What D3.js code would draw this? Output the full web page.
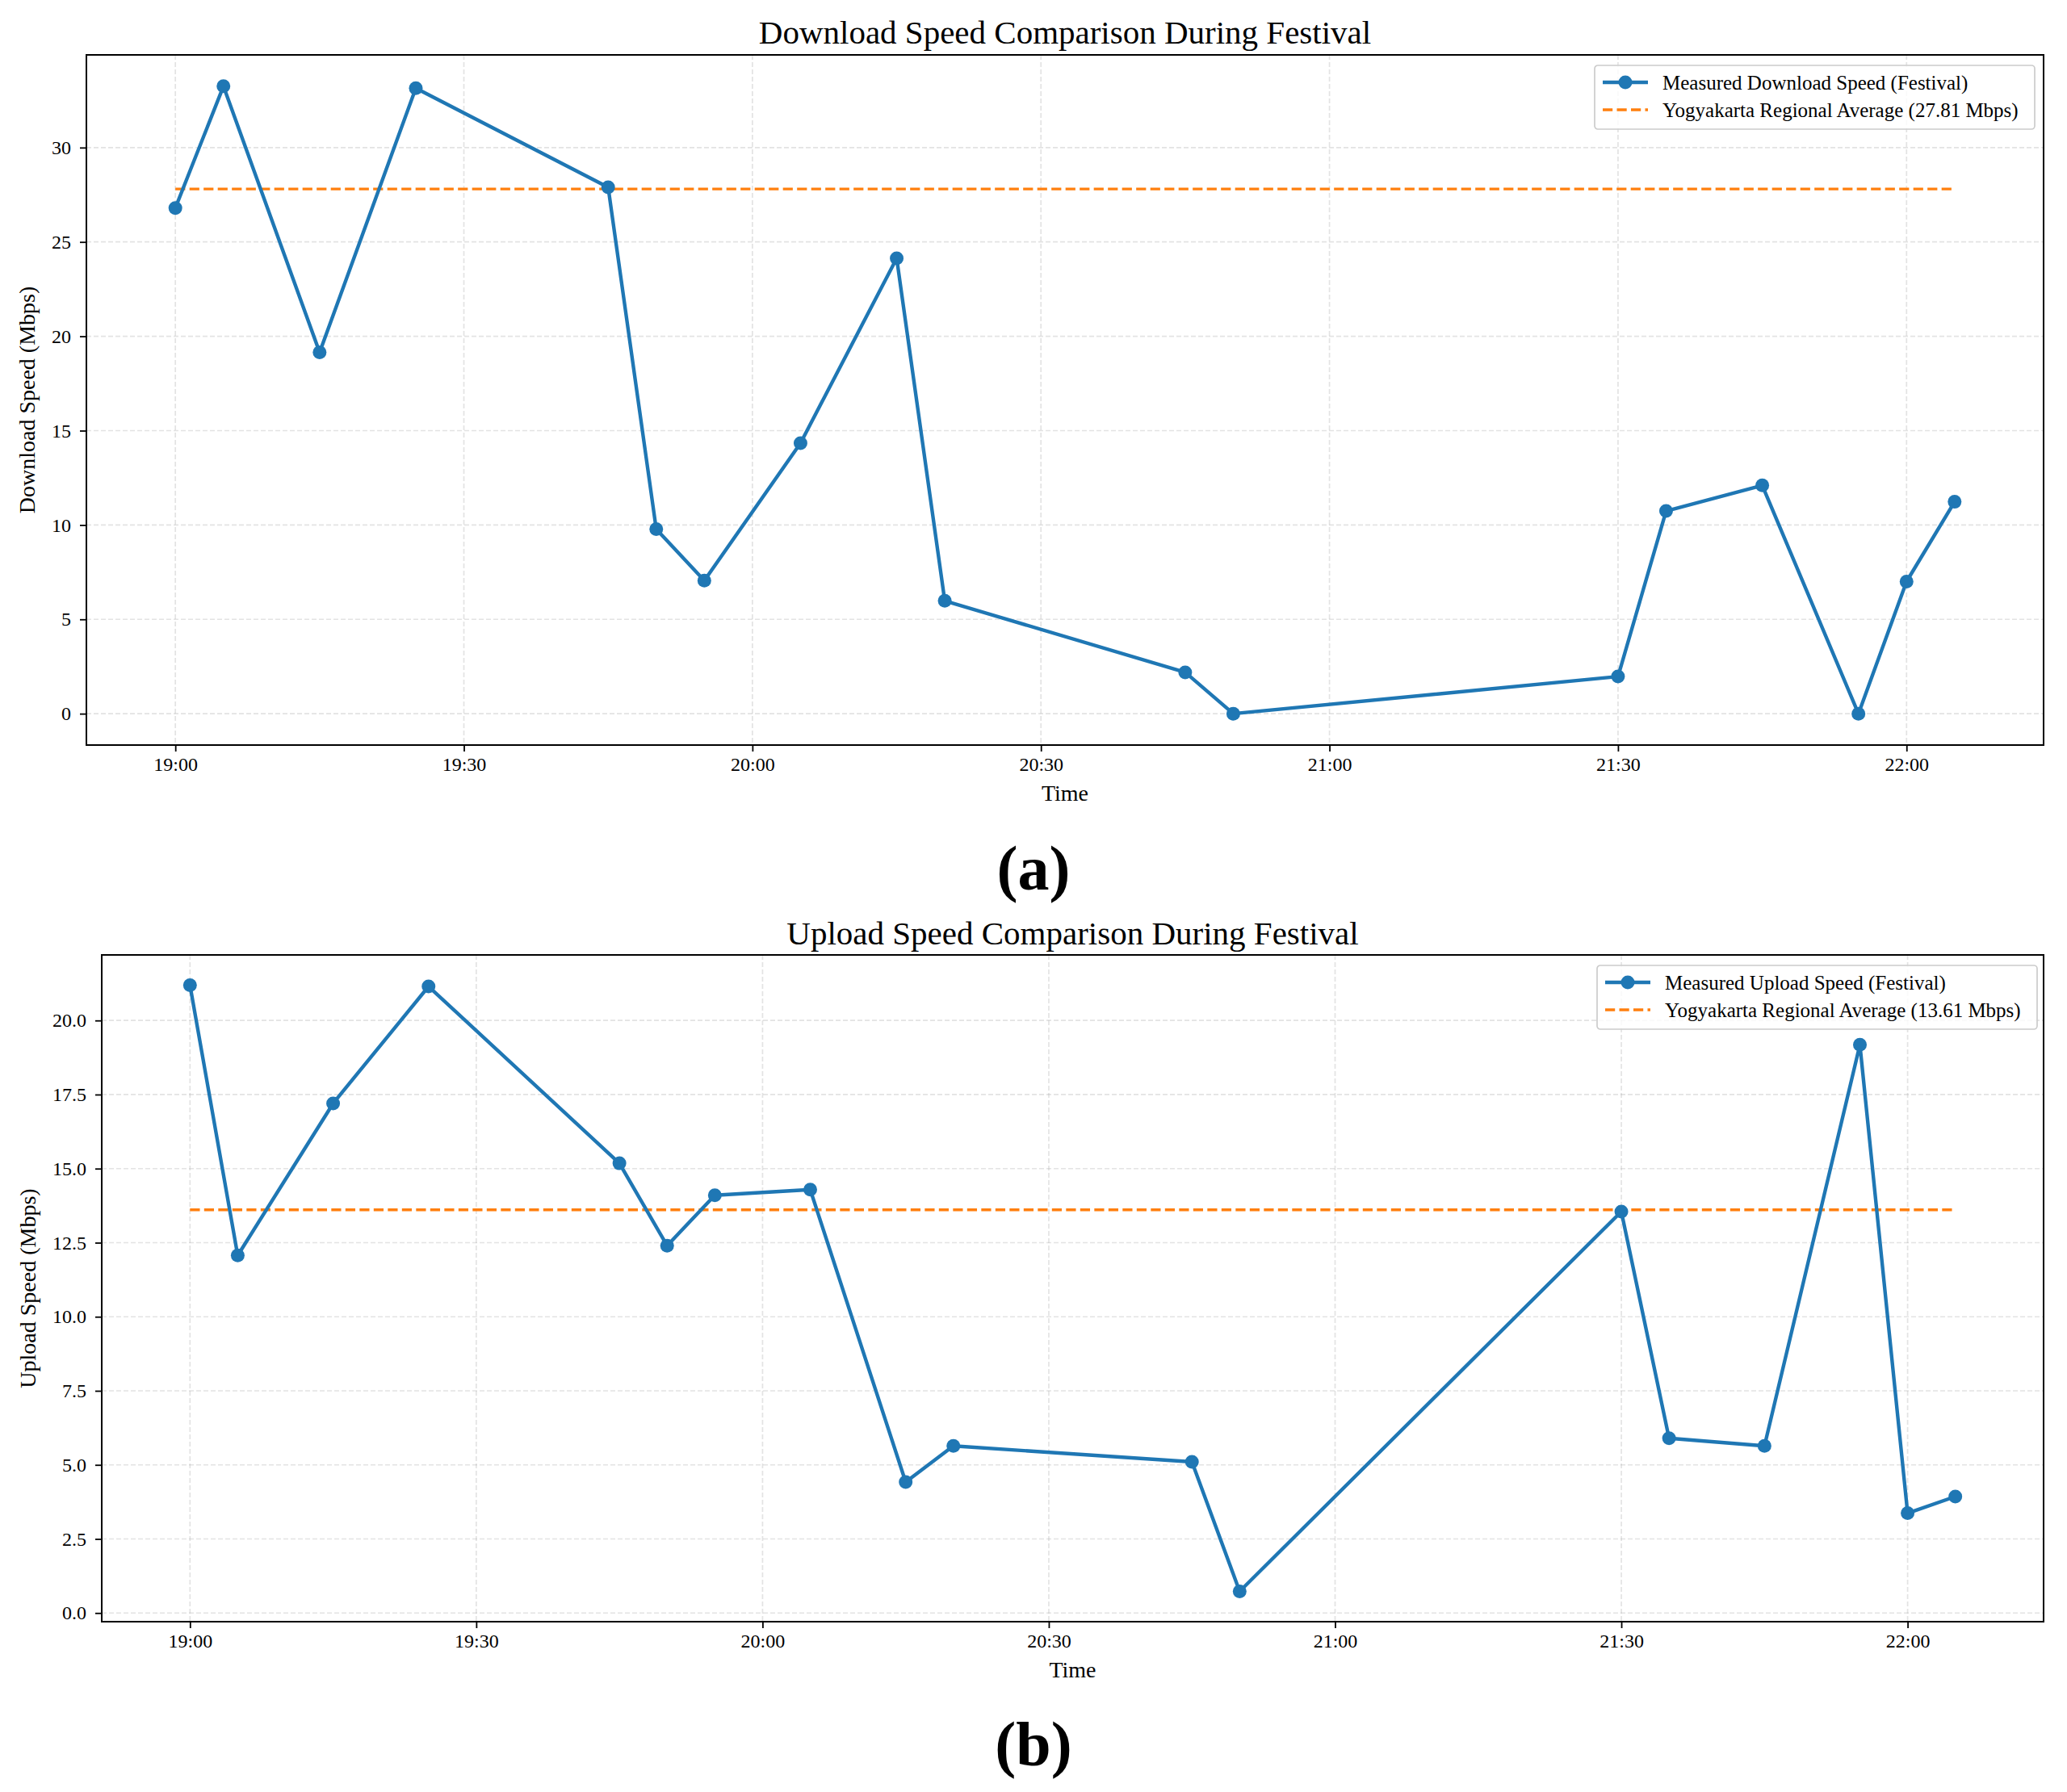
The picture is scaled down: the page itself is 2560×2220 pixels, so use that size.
<!DOCTYPE html>
<html>
<head>
<meta charset="utf-8">
<script src="https://cdn.jsdelivr.net/npm/d3@7"></script>
<style>
  body { margin: 0; background: #fff; }
  text { font-family: "Liberation Serif", "Times New Roman", serif; fill: #000; }
</style>
</head>
<body>
<script>
// measurement times (same for both panels)
const times = ["19:00", "19:05", "19:15", "19:25", "19:45", "19:50", "19:55", "20:05", "20:15",
  "20:20", "20:45", "20:50", "21:30", "21:35", "21:45", "21:55", "22:00", "22:05"];

const downloadSpeeds = [26.8, 33.25, 19.15, 33.15, 27.9, 9.78, 7.05, 14.34, 24.13,
  5.98, 2.19, 0.0, 1.97, 10.74, 12.1, 0.0, 7.0, 11.23];
const uploadSpeeds = [21.19, 12.07, 17.2, 21.15, 15.18, 12.4, 14.1, 14.29, 4.42,
  5.64, 5.1, 0.73, 13.55, 5.9, 5.64, 19.18, 3.37, 3.93];

const downloadAvg = 27.81;
const uploadAvg = 13.61;

const timeTicks = ["19:00", "19:30", "20:00", "20:30", "21:00", "21:30", "22:00"];
const downloadTicks = [0, 5, 10, 15, 20, 25, 30];
const uploadTicks = [0, 2.5, 5, 7.5, 10, 12.5, 15, 17.5, 20];

const parseTime = d3.timeParse("%H:%M");

const svg = d3.select("body").append("svg")
  .attr("width", 2560)
  .attr("height", 2220);

svg.append("rect").attr("width", 2560).attr("height", 2220).attr("fill", "#fff");

function drawPanel(cfg) {
  const pts = times.map((t, i) => ({ t: parseTime(t), v: cfg.values[i] }));

  // matplotlib style 5% margins
  const [t0, t1] = d3.extent(pts, d => d.t);
  const dt = (t1 - t0) * 0.05;
  const [v0, v1] = d3.extent(pts, d => d.v);
  const dv = (v1 - v0) * 0.05;

  const x = d3.scaleTime()
    .domain([new Date(+t0 - dt), new Date(+t1 + dt)])
    .range([cfg.left, cfg.right]);
  const y = d3.scaleLinear()
    .domain([v0 - dv, v1 + dv])
    .range([cfg.bottom, cfg.top]);

  const g = svg.append("g");
  const xt = timeTicks.map(parseTime);

  // grid
  g.append("g").selectAll("line").data(xt).join("line")
    .attr("x1", d => x(d)).attr("x2", d => x(d))
    .attr("y1", cfg.top).attr("y2", cfg.bottom)
    .attr("stroke", "#b0b0b0").attr("stroke-opacity", 0.35)
    .attr("stroke-width", 1.7).attr("stroke-dasharray", "6,3");
  g.append("g").selectAll("line").data(cfg.ticks).join("line")
    .attr("x1", cfg.left).attr("x2", cfg.right)
    .attr("y1", d => y(d)).attr("y2", d => y(d))
    .attr("stroke", "#b0b0b0").attr("stroke-opacity", 0.35)
    .attr("stroke-width", 1.7).attr("stroke-dasharray", "6,3");

  // regional average
  g.append("line")
    .attr("x1", x(t0)).attr("x2", x(t1))
    .attr("y1", y(cfg.avg)).attr("y2", y(cfg.avg))
    .attr("stroke", "#ff7f0e").attr("stroke-width", 3.3)
    .attr("stroke-dasharray", "12.2,5.3");

  // measured series
  const line = d3.line().x(d => x(d.t)).y(d => y(d.v));
  g.append("path").datum(pts)
    .attr("d", line)
    .attr("fill", "none")
    .attr("stroke", "#1f77b4")
    .attr("stroke-width", 4.4)
    .attr("stroke-linejoin", "round");
  g.append("g").selectAll("circle").data(pts).join("circle")
    .attr("cx", d => x(d.t)).attr("cy", d => y(d.v))
    .attr("r", 8.5).attr("fill", "#1f77b4");

  // axes
  const xAxis = g.append("g")
    .attr("transform", "translate(0," + cfg.bottom + ")")
    .call(d3.axisBottom(x).tickValues(xt).tickFormat(d3.timeFormat("%H:%M"))
      .tickSize(8).tickPadding(7).tickSizeOuter(0));
  const yAxis = g.append("g")
    .attr("transform", "translate(" + cfg.left + ",0)")
    .call(d3.axisLeft(y).tickValues(cfg.ticks).tickFormat(cfg.fmt)
      .tickSize(8).tickPadding(11).tickSizeOuter(0));
  [xAxis, yAxis].forEach(a => {
    a.select(".domain").remove();
    a.selectAll("line").attr("stroke", "#000").attr("stroke-width", 1.8);
    a.selectAll("text").attr("font-size", 24)
      .attr("font-family", "Liberation Serif").attr("fill", "#000");
  });

  // frame
  g.append("rect")
    .attr("x", cfg.left).attr("y", cfg.top)
    .attr("width", cfg.right - cfg.left).attr("height", cfg.bottom - cfg.top)
    .attr("fill", "none").attr("stroke", "#000").attr("stroke-width", 2);

  // title and labels
  g.append("text")
    .attr("x", (cfg.left + cfg.right) / 2).attr("y", cfg.titleY)
    .attr("text-anchor", "middle").attr("font-size", 41)
    .text(cfg.title);
  g.append("text")
    .attr("x", (cfg.left + cfg.right) / 2).attr("y", cfg.bottom + 69)
    .attr("text-anchor", "middle").attr("font-size", 28)
    .text("Time");
  g.append("text")
    .attr("transform", "translate(" + (cfg.yLabelX) + "," + ((cfg.top + cfg.bottom) / 2) + ") rotate(-90)")
    .attr("text-anchor", "middle").attr("dy", "0.35em").attr("font-size", 28)
    .text(cfg.yLabel);

  // legend
  const lg = g.append("g").attr("transform", "translate(" + cfg.legendX + "," + (cfg.top + 13) + ")");
  lg.append("rect")
    .attr("width", 545).attr("height", 79).attr("rx", 4)
    .attr("fill", "#fff").attr("fill-opacity", 0.8)
    .attr("stroke", "#cccccc").attr("stroke-width", 1.7);
  lg.append("line").attr("x1", 10).attr("x2", 66).attr("y1", 21).attr("y2", 21)
    .attr("stroke", "#1f77b4").attr("stroke-width", 4.4);
  lg.append("circle").attr("cx", 38).attr("cy", 21).attr("r", 8.5).attr("fill", "#1f77b4");
  lg.append("line").attr("x1", 10).attr("x2", 66).attr("y1", 55).attr("y2", 55)
    .attr("stroke", "#ff7f0e").attr("stroke-width", 3.3).attr("stroke-dasharray", "12.2,5.3");
  lg.append("text").attr("x", 84).attr("y", 21).attr("dy", "0.35em").attr("font-size", 25)
    .text(cfg.seriesName);
  lg.append("text").attr("x", 84).attr("y", 55).attr("dy", "0.35em").attr("font-size", 25)
    .text("Yogyakarta Regional Average (" + cfg.avg.toFixed(2) + " Mbps)");

  // panel tag
  svg.append("text")
    .attr("x", 1280).attr("y", cfg.tagY)
    .attr("text-anchor", "middle").attr("font-size", 78).attr("font-weight", "bold")
    .text(cfg.tag);
}

drawPanel({
  values: downloadSpeeds, avg: downloadAvg, ticks: downloadTicks, fmt: d3.format("d"),
  left: 107, right: 2531, top: 68, bottom: 923, titleY: 54, yLabelX: 33, legendX: 1975,
  title: "Download Speed Comparison During Festival",
  yLabel: "Download Speed (Mbps)",
  seriesName: "Measured Download Speed (Festival)",
  tag: "(a)", tagY: 1102
});

drawPanel({
  values: uploadSpeeds, avg: uploadAvg, ticks: uploadTicks, fmt: d3.format(".1f"),
  left: 126, right: 2531, top: 1183, bottom: 2009, titleY: 1170, yLabelX: 34, legendX: 1978,
  title: "Upload Speed Comparison During Festival",
  yLabel: "Upload Speed (Mbps)",
  seriesName: "Measured Upload Speed (Festival)",
  tag: "(b)", tagY: 2187
});
</script>
</body>
</html>
